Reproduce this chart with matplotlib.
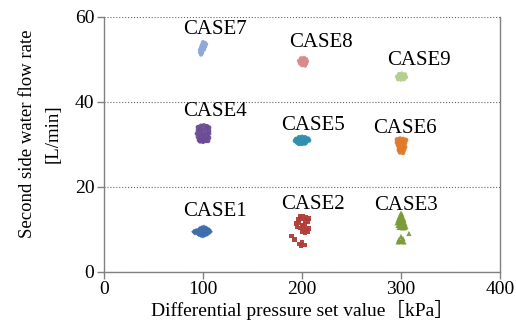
import matplotlib
matplotlib.use("Agg")
import matplotlib.pyplot as plt

plt.rcParams['font.family'] = ['Liberation Serif', 'Noto Sans CJK JP']

case_names = ["CASE1", "CASE2", "CASE3", "CASE4", "CASE5", "CASE6", "CASE7", "CASE8", "CASE9"]

case1_x = [91, 92, 93, 94, 95, 96, 96, 97, 97, 98, 98, 99, 99, 100, 100, 101, 101, 102, 102, 103, 103, 104, 104, 105, 105, 106, 107, 100, 102, 98, 104]
case1_y = [9.4, 9.2, 9.6, 9.3, 9.0, 9.8, 8.8, 10.1, 9.0, 9.5, 8.6, 10.3, 9.1, 9.7, 8.5, 10.4, 9.3, 9.8, 8.7, 10.2, 9.2, 10.0, 8.9, 9.6, 9.1, 9.8, 9.4, 9.9, 9.5, 9.9, 9.5]

case2_x = [198, 201, 204, 207, 196, 199, 203, 206, 194, 197, 200, 203, 195, 198, 201, 204, 207, 200, 203, 206, 189, 192, 197, 200, 203, 199]
case2_y = [12.9, 13.1, 12.8, 12.6, 12.2, 12.4, 12.0, 11.9, 11.3, 11.5, 11.0, 11.2, 10.5, 10.3, 10.6, 10.0, 10.2, 9.4, 9.2, 9.5, 8.4, 7.6, 6.5, 6.8, 6.3, 6.1]

case3_x = [300, 299, 301, 298, 300, 302, 297, 299, 301, 303, 296, 298, 300, 302, 304, 297, 299, 301, 303, 305, 298, 300, 302, 304, 300, 298, 302, 297, 299, 301, 303, 308]
case3_y = [13.8, 13.2, 13.4, 12.7, 12.9, 12.6, 12.1, 12.3, 12.0, 12.2, 11.5, 11.7, 11.4, 11.6, 11.3, 10.9, 11.0, 10.8, 10.9, 10.6, 10.4, 10.5, 10.3, 10.4, 8.3, 7.6, 7.8, 7.0, 7.2, 7.1, 7.0, 9.0]

case4_x = [95, 98, 101, 104, 106, 95, 97, 100, 103, 106, 94, 97, 100, 103, 106, 95, 98, 101, 104, 106, 96, 99, 102, 105, 97, 100, 103]
case4_y = [34.0, 34.3, 34.4, 34.2, 33.9, 33.3, 33.5, 33.4, 33.6, 33.2, 32.5, 32.7, 32.4, 32.6, 32.5, 31.7, 31.8, 31.6, 31.9, 31.5, 31.0, 30.9, 31.1, 30.8, 30.7, 30.6, 30.8]

case5_x = [194, 197, 200, 203, 206, 193, 196, 199, 202, 205, 207, 195, 198, 201, 204, 197, 200, 203]
case5_y = [31.2, 31.6, 31.7, 31.6, 31.3, 30.8, 31.0, 31.1, 31.0, 30.9, 30.9, 30.4, 30.3, 30.4, 30.5, 30.1, 30.1, 30.2]

case6_x = [296, 299, 302, 305, 296, 299, 302, 304, 297, 300, 303, 298, 301, 304, 298, 301, 303, 299, 302]
case6_y = [31.1, 31.3, 31.2, 31.0, 30.4, 30.6, 30.5, 30.3, 29.8, 29.9, 29.7, 29.2, 29.1, 29.3, 28.6, 28.5, 28.7, 28.1, 28.0]

case7_x = [100, 102, 99, 101, 103, 98, 100, 102, 97, 99, 101, 97, 99, 98]
case7_y = [54.0, 53.8, 53.4, 53.3, 53.5, 52.8, 52.7, 52.9, 52.2, 52.1, 52.3, 51.6, 51.5, 51.1]

case8_x = [199, 202, 204, 197, 200, 203, 205, 198, 201, 204, 200, 203]
case8_y = [50.2, 50.3, 50.0, 49.6, 49.7, 49.6, 49.5, 49.0, 49.1, 49.0, 48.6, 48.5]

case9_x = [298, 301, 304, 296, 299, 302, 305, 297, 300, 303]
case9_y = [46.5, 46.6, 46.4, 45.9, 45.9, 46.0, 45.8, 45.3, 45.2, 45.3]

# where each CASE label sits (data coords)
label_x = [112, 211, 305, 112, 211, 304, 112, 219, 318]
label_y = [14.2, 15.7, 15.5, 37.6, 34.5, 33.6, 56.9, 53.9, 49.6]

xs = [case1_x, case2_x, case3_x, case4_x, case5_x, case6_x, case7_x, case8_x, case9_x]
ys = [case1_y, case2_y, case3_y, case4_y, case5_y, case6_y, case7_y, case8_y, case9_y]
colors = ['#3f6eab', '#b03b37', '#7b9a38', '#6a4c93', '#2f8fae', '#e0792b', '#8ea8d7', '#d78a8a', '#b4ce8c']
markers = ['D', 's', '^', 'o', 'o', 'o', 'o', 'o', 'o']
sizes = [9, 12, 14, 12, 12, 12, 10, 10, 10]

fig = plt.figure(figsize=(5.16, 3.23), dpi=100)
ax = fig.add_axes([0.2016, 0.1588, 0.7674, 0.7895])

for i in range(len(case_names)):
    ax.scatter(xs[i], ys[i], s=sizes[i], marker=markers[i], color=colors[i],
               edgecolors='none', alpha=0.95, zorder=3)
    ax.text(label_x[i], label_y[i], case_names[i], ha='center', va='center',
            fontsize=15, color='black')

ax.set_xlim(0, 400)
ax.set_ylim(0, 60)
ax.set_xticks([0, 100, 200, 300, 400])
ax.set_yticks([0, 20, 40, 60])

ax.yaxis.grid(True, linestyle=':', color='#666666', linewidth=0.8)
ax.set_axisbelow(True)

ax.spines['top'].set_visible(False)
for s in ['left', 'bottom', 'right']:
    ax.spines[s].set_color('#808080')
    ax.spines[s].set_linewidth(1.0)

ax.tick_params(axis='both', direction='out', length=5, width=1, color='#808080',
               labelsize=14, pad=2)

ax.set_xlabel("Differential pressure set value［kPa］", fontsize=14, labelpad=1)
ax.set_ylabel("Second side water flow rate\n[L/min]", fontsize=13.5, linespacing=1.6)
ax.yaxis.set_label_coords(-0.108, 0.54)

fig.savefig("out.png", dpi=100)
